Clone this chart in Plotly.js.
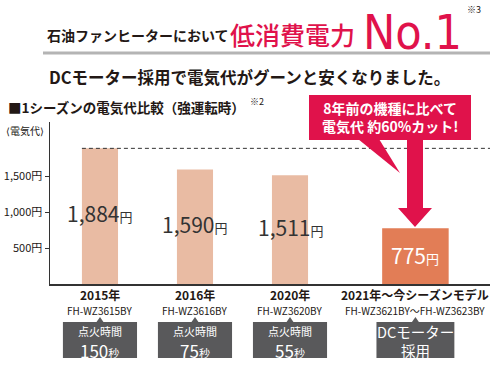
<!DOCTYPE html>
<html>
<head>
<meta charset="utf-8">
<script src="https://cdn.plot.ly/plotly-3.0.1.min.js"></script>
<style>
  html, body { margin: 0; padding: 0; background: #fff; }
  #chart { width: 490px; height: 368px; }
</style>
</head>
<body>
<div id="chart"></div>
<script>
// ---- data ----
const years = ['2015年', '2016年', '2020年', '2021年〜今シーズンモデル'];
const models = ['FH-WZ3615BY', 'FH-WZ3616BY', 'FH-WZ3620BY', 'FH-WZ3621BY〜FH-WZ3623BY'];
const costs = [1884, 1590, 1511, 775];
const ignitionSec = [150, 75, 55, null];
const yTickVals = [500, 1000, 1500];
const yTickText = ['500円', '1,000円', '1,500円'];

// ---- layout helpers (pixels -> paper) ----
const L = 50, R = 490, T = 122, B = 284;
const pxX = x => (x - L) / (R - L);
const pxY = y => (B - y) / (B - T);
const xPos = [0, 1, 2, 3.32];
const barW = [0.38, 0.38, 0.38, 0.70];

const FONT = '"Noto Sans CJK JP", "Noto Sans", sans-serif';
const RED = '#e0124b';
const DARK = '#231815';
const BOX = '#59595b';

const trace = {
  type: 'bar',
  x: xPos,
  y: costs,
  width: barW,
  marker: { color: costs.map((v, i) => i === costs.length - 1 ? '#e27d56' : '#e9bba3'), line: { width: 0 } },
  hoverinfo: 'skip'
};

const ann = [];
const shapes = [];
function txt(x, y, text, size, color, opts) {
  ann.push(Object.assign({
    xref: 'paper', yref: 'paper', x: pxX(x), y: pxY(y), text: text,
    showarrow: false, xanchor: 'center', yanchor: 'middle',
    font: { family: FONT, size: size, color: color }
  }, opts || {}));
}
function catTxt(i, y, text, size, color) {
  ann.push({ xref: 'x', yref: 'paper', x: xPos[i], y: pxY(y), yanchor: 'middle', showarrow: false,
    borderpad: 0, text: text, font: { family: FONT, size: size, color: color } });
}

// header
txt(45, 35, '<b>石油ファンヒーターにおいて</b>', 14, DARK, { xanchor: 'left' });
txt(228, 34, '低消費電力', 25, RED, { xanchor: 'left', font: { family: FONT, size: 25, color: RED, weight: 500 } });
txt(361, 32, 'No.1', 48, RED, { xanchor: 'left', font: { family: '"Liberation Sans Narrow", "DejaVu Sans Condensed", sans-serif', size: 48, color: RED } });
txt(465, 9, '※3', 9, DARK, { xanchor: 'left' });
shapes.push({ type: 'line', xref: 'paper', yref: 'paper', x0: pxX(43), x1: pxX(490), y0: pxY(53), y1: pxY(53), line: { color: '#b4b4b4', width: 3 } });
txt(249, 77, '<b>DCモーター採用で電気代がグーンと安くなりました。</b>', 16.5, DARK);
txt(6, 107, '<b>■1シーズンの電気代比較（強運転時）</b>', 13.5, DARK, { xanchor: 'left' });
txt(248, 101, '※2', 9, DARK, { xanchor: 'left' });
txt(4, 130, '⟨電気代⟩', 10, DARK, { xanchor: 'left' });

// dashed reference line at first bar's level
shapes.push({ type: 'line', xref: 'x', yref: 'y', x0: xPos[0] - barW[0] / 2, x1: 4.2, y0: costs[0], y1: costs[0], line: { color: '#333', width: 1, dash: '4px,3px' } });

// callout
shapes.push({ type: 'rect', xref: 'paper', yref: 'paper', x0: pxX(309), x1: pxX(471), y0: pxY(95), y1: pxY(140), fillcolor: RED, line: { width: 0 } });
shapes.push({ type: 'path', xref: 'paper', yref: 'paper', fillcolor: RED, line: { width: 0 },
  path: `M ${pxX(358)} ${pxY(139)} L ${pxX(400)} ${pxY(173)} L ${pxX(379)} ${pxY(139)} Z` });
shapes.push({ type: 'path', xref: 'paper', yref: 'paper', fillcolor: RED, line: { width: 0 },
  path: `M ${pxX(407)} ${pxY(139)} L ${pxX(423)} ${pxY(139)} L ${pxX(423)} ${pxY(208)} L ${pxX(432)} ${pxY(208)} L ${pxX(415)} ${pxY(227)} L ${pxX(398)} ${pxY(208)} L ${pxX(407)} ${pxY(208)} Z` });
txt(390, 116.5, '<b>8年前の機種に比べて<br>電気代 約60%カット!</b>', 14, '#fff', { font: { family: FONT, size: 14, color: '#fff' } });

// value labels inside bars
costs.forEach((v, i) => {
  const last = i === costs.length - 1;
  ann.push({
    xref: 'x', yref: 'y', x: xPos[i], y: v / 2 + (last ? 20 : 40), showarrow: false,
    text: v.toLocaleString('en-US') + '<span style="font-size:13px">円</span>',
    font: { family: FONT, size: 21, color: last ? '#fff' : '#333' }
  });
});

// category labels and info boxes
years.forEach((yr, i) => {
  catTxt(i, 294, '<b>' + yr + '</b>', 12, DARK);
  catTxt(i, 310, models[i], 10, DARK);
  const last = i === years.length - 1;
  const hw = last ? 0.41 : 0.39;
  shapes.push({ type: 'rect', xref: 'x', yref: 'paper', x0: xPos[i] - hw, x1: xPos[i] + hw, y0: pxY(322), y1: pxY(358), fillcolor: BOX, line: { width: 0 } });
  shapes.push({ type: 'path', xref: 'x', yref: 'paper', fillcolor: BOX, line: { width: 0 },
    path: `M ${xPos[i] - 0.04} ${pxY(322.5)} L ${xPos[i]} ${pxY(317)} L ${xPos[i] + 0.04} ${pxY(322.5)} Z` });
  if (ignitionSec[i] !== null) {
    catTxt(i, 331, '点火時間', 11, '#fff');
    catTxt(i, 350, ignitionSec[i] + '<span style="font-size:11px">秒</span>', 17, '#fff');
  } else {
    catTxt(i, 331, 'DCモーター', 14.5, '#fff');
    catTxt(i, 350.5, '採用', 14.5, '#fff');
  }
});

const layout = {
  width: 490, height: 368,
  margin: { l: L, r: 490 - R, t: T, b: 368 - B, pad: 0 },
  paper_bgcolor: '#fff', plot_bgcolor: 'rgba(0,0,0,0)',
  showlegend: false,
  font: { family: FONT, color: DARK },
  xaxis: { range: [-0.526, 4.105], showticklabels: false, ticks: '', showgrid: false, zeroline: false,
    showline: true, linecolor: '#333', linewidth: 1.5, fixedrange: true },
  yaxis: { range: [0, 2250], tickvals: yTickVals, ticktext: yTickText, ticks: 'outside', ticklen: 4,
    tickcolor: '#333', tickfont: { family: FONT, size: 11, color: DARK }, showgrid: false, zeroline: false,
    showline: true, linecolor: '#333', linewidth: 1.5, fixedrange: true },
  annotations: ann,
  shapes: shapes
};

Plotly.newPlot('chart', [trace], layout, { displayModeBar: false, staticPlot: true });
</script>
</body>
</html>
